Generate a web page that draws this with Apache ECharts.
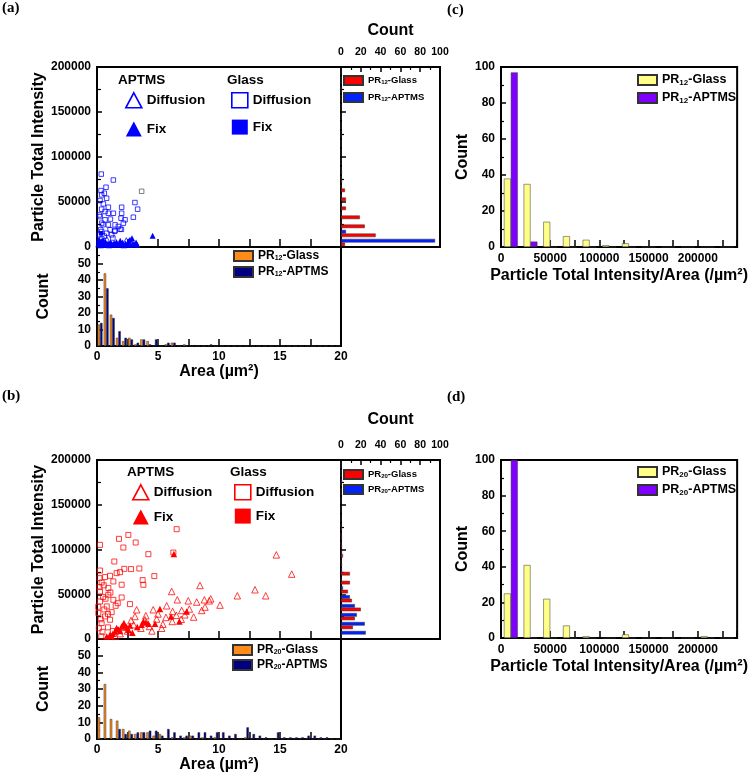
<!DOCTYPE html>
<html>
<head>
<meta charset="utf-8">
<script src="https://cdn.jsdelivr.net/npm/echarts@6/dist/echarts.min.js"></script>
<style>
html,body{margin:0;padding:0;background:#fff;}
#main{width:750px;height:779px;}
</style>
</head>
<body>
<div id="main"></div>
<script>
let sans = '"Liberation Sans", Arial, sans-serif';
let serif = '"Liberation Serif", "Times New Roman", serif';

// ---- scatter: [area (um^2), particle total intensity] ----
let apt12Diff = [[2.4,7000],[0.8,8500]];
let apt12Fix = [[0.1,3000],[0.2,5000],[0.3,2000],[0.35,6000],[0.45,3500],[0.55,4500],[0.6,2500],[0.7,5500],
	[0.8,3000],[0.9,4000],[1.0,2000],[1.1,5000],[1.2,3500],[1.3,2500],[1.4,4500],[1.5,3000],[1.6,5500],
	[1.75,2500],[1.85,4000],[2.0,3000],[2.1,5000],[2.2,2000],[2.35,4000],[2.5,3000],[2.6,6500],[2.75,2500],
	[2.87,9700],[2.95,4000],[3.1,3000],[3.3,2500],[4.56,12600],[0.15,8000],[0.5,7500],[1.9,7000],[2.7,8000],[3.2,5000]];
let glass12Diff = [[0.35,81000],[1.34,74400],[0.74,66400],[0.33,62700],[0.6,59700],[0.38,57900],[0.25,51600],
	[0.79,54200],[0.52,47900],[0.38,42000],[0.93,44200],[0.66,39400],[0.93,37500],[0.25,33800],[0.66,30200],
	[0.38,26500],[1.34,37500],[2.02,44200],[2.02,37500],[1.97,32000],[2.3,30200],[3.11,49400],[3.33,42000],
	[2.98,33100],[2.16,26500],[1.89,19800],[1.48,18300],[1.07,19100],[0.79,15300],[1.2,13500],[0.38,17200],
	[0.93,24600],[1.48,24600],[1.75,22800],[0.2,35600],[0.5,24800],[0.3,19300],[0.15,13700],[1.45,17400],
	[2.0,19600],[1.1,31000],[0.4,9000],[0.6,12000],[1.3,10000],[0.2,6000]];
let glass12Fix = [[0.33,15200],[0.5,4000]];
let glass12Other = [[3.66,61900]];

let apt20Diff = [[14.7,94000],[15.96,72500],[8.44,59800],[6.12,53100],[12.95,55000],[11.5,48300],[13.83,48300],
	[6.58,43800],[7.48,42700],[8.17,41300],[8.8,43800],[9.32,44900],[9.2,42700],[10.08,37900],[8.85,35700],
	[7.57,33500],[6.94,31900],[6.2,30800],[5.71,37100],[4.61,32700],[3.25,32700],[3.11,25200],[3.93,21500],
	[4.89,22300],[5.65,24100],[6.17,19600],[7.92,24500],[8.58,31900],[2.79,20700],[5.0,28000],[4.3,14000],
	[5.4,16500],[6.9,22000],[7.2,27000],[3.6,12000],[2.5,9000],[1.9,6000],[4.0,26000],[5.3,12000],[6.5,26500],
	[2.2,13000],[3.0,16000],[1.5,3000],[4.5,9000]];
let apt20Fix = [[6.3,95000],[5.16,33500],[7.35,30800],[6.75,19600],[6.07,25200],[3.8,19600],[4.21,17100],
	[4.76,17100],[2.16,16000],[2.43,13400],[1.61,12300],[3.66,16000],[1.07,4800],[1.48,8500],[2.02,14000],
	[2.57,10400],[2.9,7000],[1.75,10600],[2.21,17800],[0.8,2900],[1.3,6000],[3.3,13500],[2.7,15000],
	[1.9,9000],[1.2,3000],[4.0,18500]];
let glass20Diff = [[6.53,122700],[2.57,116300],[1.8,111900],[3.17,107800],[2.16,102200],[0.25,105200],
	[4.21,94800],[6.26,96600],[1.42,86600],[0.25,76500],[2.24,78400],[2.79,78100],[3.47,78800],[1.61,73600],
	[1.07,70600],[0.66,69200],[1.34,64300],[0.38,63100],[3.74,65800],[4.7,70300],[2.02,60600],[0.25,53100],
	[0.93,56900],[0.93,49400],[1.34,43800],[2.7,39000],[2.02,46400],[0.25,41900],[0.8,36400],[1.53,37100],
	[0.11,29000],[0.66,25200],[0.38,17800],[1.07,21500],[1.89,74700],[0.5,47000],[0.2,58000],[0.6,33000],
	[1.2,30000],[0.15,12000],[0.45,8000],[0.9,13000],[0.3,22000],[1.1,52000],[0.7,45000],[1.7,40000],
	[0.1,36000],[0.55,60000],[0.2,68000],[0.9,28000],[1.3,9000],[0.35,3000],[3.8,60600]];
let glass20Fix = [];

// ---- area histograms: 40 bins of 0.5 um^2 ----
let glass12Area = [13,44,19,5,3,5,1,4,3,0, 0,1,2,0,1,0,0,0,0,0, 0,0,0,0,0,0,0,0,0,0, 0,0,0,0,0,0,0,0,0,0];
let aptms12Area = [14,35,17,9,5,4,2,4,1,4, 0,2,2,0,0,0,0,0,1,0, 0,0,0,0,0,0,0,0,0,0, 0,0,0,0,0,0,0,0,0,0];
let glass20Area = [13,33,12,11,6,5,3,4,4,2, 3,0,1,0,1,2,0,1,0,1, 0,0,0,0,1,0,0,0,0,0, 0,0,0,0,0,0,0,0,0,0];
let aptms20Area = [0,0,0,6,3,3,4,4,5,5, 2,6,4,2,2,2,4,4,2,4, 4,2,3,0,7,3,2,1,0,4, 1,1,1,1,2,2,1,1,0,0];

// ---- intensity histograms (right side): 20 bins of 10000 ----
let glass12Int = [4,35,24,19,5,5,4,1,1,0,0,0,0,0,0,0,0,0,0,0];
let aptms12Int = [95,5,0,0,0,0,0,0,0,0,0,0,0,0,0,0,0,0,0,0];
let glass20Int = [0,12,14,20,11,7,9,9,1,2,1,1,1,0,0,0,0,0,0,0];
let aptms20Int = [25,24,16,14,9,2,0,1,0,1,0,0,0,0,0,0,0,1,0,0];

// ---- intensity/area histograms: 12 bins of 20000 ----
let glass12Ratio = [38,35,14,6,4,1,2,0,0,0,0,0];
let aptms12Ratio = [97,3,0,0,0,0,0,0,0,0,0,0];
let glass20Ratio = [25,41,22,7,1,0,2,0,0,0,1,0];
let aptms20Ratio = [100,0,0,0,0,0,0,0,0,0,0,0];

// bin names
let areaBins = [], intBins = [], ratioBins = [];
for (let i = 0; i < 40; i++) areaBins.push((i * 0.5) + '-' + (i * 0.5 + 0.5));
for (let i = 0; i < 20; i++) intBins.push((i * 10000) + '-' + (i * 10000 + 10000));
for (let i = 0; i < 12; i++) ratioBins.push((i * 20000) + '-' + (i * 20000 + 20000));

let lineStyle = {color:'#000', width:2};

function valAxis(grid, min, max, interval, opt){
	let ax = {
		type:'value', gridIndex:grid, min:min, max:max, interval:interval,
		axisLine:{show:true, onZero:false, lineStyle:lineStyle},
		axisTick:{show:true, inside:true, length:opt.tick || 5, lineStyle:{color:'#000', width:1.5}},
		minorTick:{show:!!opt.minor, splitNumber:2, length:opt.minorLen || 3, lineStyle:{color:'#000', width:1.2}},
		splitLine:{show:false},
		axisLabel:{
			show:opt.label !== false, color:'#000', fontFamily:sans, fontWeight:'bold',
			fontSize:opt.fontSize || 12, margin:opt.margin || 6, showMaxLabel:opt.showMax !== false,
			formatter:opt.formatter || function(v){ return String(v); }
		},
		name:opt.name || '', nameLocation:'middle', nameGap:opt.nameGap || 20,
		nameTextStyle:{color:'#000', fontFamily:sans, fontWeight:'bold', fontSize:opt.nameSize || 16}
	};
	if (opt.position) ax.position = opt.position;
	return ax;
}

function catAxis(grid, data){
	return {type:'category', gridIndex:grid, data:data, show:false, boundaryGap:true};
}

function every5(v){ return v % 5 === 0 ? String(v) : ''; }
function every50k(v){ return v % 50000 === 0 ? String(v) : ''; }

// grids: a-scatter, a-area, a-int, c, b-scatter, b-area, b-int, d
let gridPos = [
	[97, 67, 244, 180], [97, 247, 244, 99], [341, 67, 99, 180], [501, 67, 245, 180],
	[97, 460, 244, 179], [97, 639, 244, 100], [341, 460, 99, 179], [501, 460, 245, 178]
];
let grids = gridPos.map(p => ({
	left:p[0], top:p[1], width:p[2], height:p[3], show:true,
	borderColor:'#000', borderWidth:2, backgroundColor:'transparent'
}));

let xAxes = [], yAxes = [];
function panelAxes(g, countGap){
	// scatter
	xAxes.push(valAxis(g, 0, 20, 2.5, {label:false, tick:8}));
	yAxes.push(valAxis(g, 0, 200000, 50000, {minor:true, minorLen:4, name:'Particle Total Intensity', nameGap:43}));
	// area histogram
	xAxes.push(valAxis(g + 1, 0, 20, 2.5, {tick:7, formatter:every5, margin:5, name:'Area (µm²)', nameGap:15}));
	xAxes.push(catAxis(g + 1, areaBins));
	yAxes.push(valAxis(g + 1, 0, 60, 10, {minor:true, tick:6, showMax:false, name:'Count', nameGap:45}));
	// intensity histogram
	xAxes.push(valAxis(g + 2, 0, 100, 20, {minor:true, position:'top', fontSize:10.5, margin:9, name:'Count', nameGap:countGap}));
	yAxes.push(valAxis(g + 2, 0, 200000, 50000, {minor:true, label:false}));
	yAxes.push(catAxis(g + 2, intBins));
	// intensity / area
	xAxes.push(valAxis(g + 3, 0, 240000, 25000, {tick:7, formatter:every50k, name:'Particle Total Intensity/Area (/µm²)', nameGap:21}));
	xAxes.push(catAxis(g + 3, ratioBins));
	yAxes.push(valAxis(g + 3, 0, 100, 20, {minor:true, name:'Count', nameGap:26}));
}
panelAxes(0, 28);
panelAxes(4, 32);

function openStyle(c){ return {color:'rgba(0,0,0,0)', borderColor:c, borderWidth:0.9, opacity:0.85}; }

function scatterSeries(tag, xi, yi, col, triSize, sqSize, apDiff, apFix, glDiff, glFix){
	return [
		{type:'scatter', name:tag + '|APTMS Diffusion', xAxisIndex:xi, yAxisIndex:yi, data:apDiff,
			symbol:'triangle', symbolSize:triSize, itemStyle:openStyle(col)},
		{type:'scatter', name:tag + '|Glass Diffusion', xAxisIndex:xi, yAxisIndex:yi, data:glDiff,
			symbol:'rect', symbolSize:sqSize, itemStyle:openStyle(col)},
		{type:'scatter', name:tag + '|APTMS Fix', xAxisIndex:xi, yAxisIndex:yi, data:apFix,
			symbol:'triangle', symbolSize:triSize, itemStyle:{color:col, opacity:1}},
		{type:'scatter', name:tag + '|Glass Fix', xAxisIndex:xi, yAxisIndex:yi, data:glFix,
			symbol:'rect', symbolSize:sqSize, itemStyle:{color:col, opacity:1}}
	];
}

function barSeries(name, xi, yi, data, color, catGap){
	return {type:'bar', name:name, xAxisIndex:xi, yAxisIndex:yi, data:data, barGap:'0%', barCategoryGap:catGap,
		itemStyle:{color:color, borderColor:'#333', borderWidth:0.5}};
}

let series = [];
series = series.concat(scatterSeries('a', 0, 0, '#0000ff', 6, 4.5, apt12Diff, apt12Fix, glass12Diff, glass12Fix));
series.push({type:'scatter', name:'a|other', xAxisIndex:0, yAxisIndex:0, data:glass12Other,
	symbol:'rect', symbolSize:4.5, itemStyle:openStyle('#555')});
series.push(barSeries('PR12-Glass|area', 2, 1, glass12Area, '#ff8c1a', '20%'));
series.push(barSeries('PR12-APTMS|area', 2, 1, aptms12Area, '#000080', '20%'));
// horizontal bars: first series sits on top inside a bin, so APTMS goes first
series.push(barSeries('PR12-APTMS|int', 3, 3, aptms12Int, '#0022ff', '20%'));
series.push(barSeries('PR12-Glass|int', 3, 3, glass12Int, '#ff0000', '20%'));
series.push(barSeries('PR12-Glass|ratio', 5, 4, glass12Ratio, '#ffff88', '30%'));
series.push(barSeries('PR12-APTMS|ratio', 5, 4, aptms12Ratio, '#8000ff', '30%'));

series = series.concat(scatterSeries('b', 6, 5, '#ff0000', 6.5, 5, apt20Diff, apt20Fix, glass20Diff, glass20Fix));
series.push(barSeries('PR20-Glass|area', 8, 6, glass20Area, '#ff8c1a', '20%'));
series.push(barSeries('PR20-APTMS|area', 8, 6, aptms20Area, '#000080', '20%'));
series.push(barSeries('PR20-APTMS|int', 9, 8, aptms20Int, '#0022ff', '20%'));
series.push(barSeries('PR20-Glass|int', 9, 8, glass20Int, '#ff0000', '20%'));
series.push(barSeries('PR20-Glass|ratio', 11, 9, glass20Ratio, '#ffff88', '30%'));
series.push(barSeries('PR20-APTMS|ratio', 11, 9, aptms20Ratio, '#8000ff', '30%'));

function markLegend(left, top, gap, tag, col, kind){
	let open = {color:'rgba(0,0,0,0)', borderColor:col, borderWidth:1.6, opacity:1};
	let icon = kind === 'APTMS' ? 'triangle' : 'rect';
	return {
		left:left, top:top, orient:'vertical', padding:0, itemGap:gap, itemWidth:16, itemHeight:15,
		selectedMode:false,
		data:[{name:tag + '|' + kind + ' Diffusion', icon:icon, itemStyle:open},
			{name:tag + '|' + kind + ' Fix', icon:icon, itemStyle:{color:col, opacity:1}}],
		formatter:function(n){ return n.split(' ').pop(); },
		textStyle:{color:'#000', fontFamily:sans, fontWeight:'bold', fontSize:13.5}
	};
}

function histLegend(left, top, gap, size, names){
	let sub = Math.round(size * 0.62);
	return {
		left:left, top:top, orient:'vertical', padding:0, itemGap:gap,
		itemWidth:19, itemHeight:size < 11 ? 9 : 10, icon:'rect', selectedMode:false,
		data:names,
		formatter:function(name){
			let m = name.split('|')[0].match(/^PR(\d+)-(.*)$/);
			return '{n|PR}{s|' + m[1] + '}{n|-' + m[2] + '}';
		},
		textStyle:{rich:{
			n:{color:'#000', fontFamily:sans, fontWeight:'bold', fontSize:size, verticalAlign:'top'},
			s:{color:'#000', fontFamily:sans, fontWeight:'bold', fontSize:sub, verticalAlign:'top',
				padding:[Math.round(size * 0.45), 0, 0, 0]}
		}}
	};
}

let legends = [
	markLegend(125, 92, 13, 'a', '#0000ff', 'APTMS'),
	markLegend(231, 92, 11, 'a', '#0000ff', 'Glass'),
	histLegend(233, 250, 4, 12, ['PR12-Glass|area', 'PR12-APTMS|area']),
	histLegend(343, 75, 6, 9.5, ['PR12-Glass|int', 'PR12-APTMS|int']),
	histLegend(637, 73, 4, 12.5, ['PR12-Glass|ratio', 'PR12-APTMS|ratio']),
	markLegend(132, 484, 9, 'b', '#ff0000', 'APTMS'),
	markLegend(234, 484, 8, 'b', '#ff0000', 'Glass'),
	histLegend(232, 644, 3, 12, ['PR20-Glass|area', 'PR20-APTMS|area']),
	histLegend(343, 469, 4, 9.5, ['PR20-Glass|int', 'PR20-APTMS|int']),
	histLegend(637, 465, 4, 12.5, ['PR20-Glass|ratio', 'PR20-APTMS|ratio'])
];

function txt(x, y, s, font){
	return {type:'text', x:x, y:y, silent:true,
		style:{text:s, fill:'#000', font:font, verticalAlign:'middle'}};
}
let headFont = 'bold 13.5px ' + sans;
let panelFont = 'bold 15px ' + serif;
let graphics = [
	txt(2, 8, '(a)', panelFont), txt(447, 10, '(c)', panelFont),
	txt(2, 396, '(b)', panelFont), txt(447, 397, '(d)', panelFont),
	txt(118, 80, 'APTMS', headFont), txt(227, 80, 'Glass', headFont),
	txt(127, 472, 'APTMS', headFont), txt(230, 472, 'Glass', headFont)
];

let chart = echarts.init(document.getElementById('main'));
chart.setOption({
	animation:false,
	backgroundColor:'#fff',
	grid:grids,
	xAxis:xAxes,
	yAxis:yAxes,
	legend:legends,
	graphic:graphics,
	series:series
});
</script>
</body>
</html>
